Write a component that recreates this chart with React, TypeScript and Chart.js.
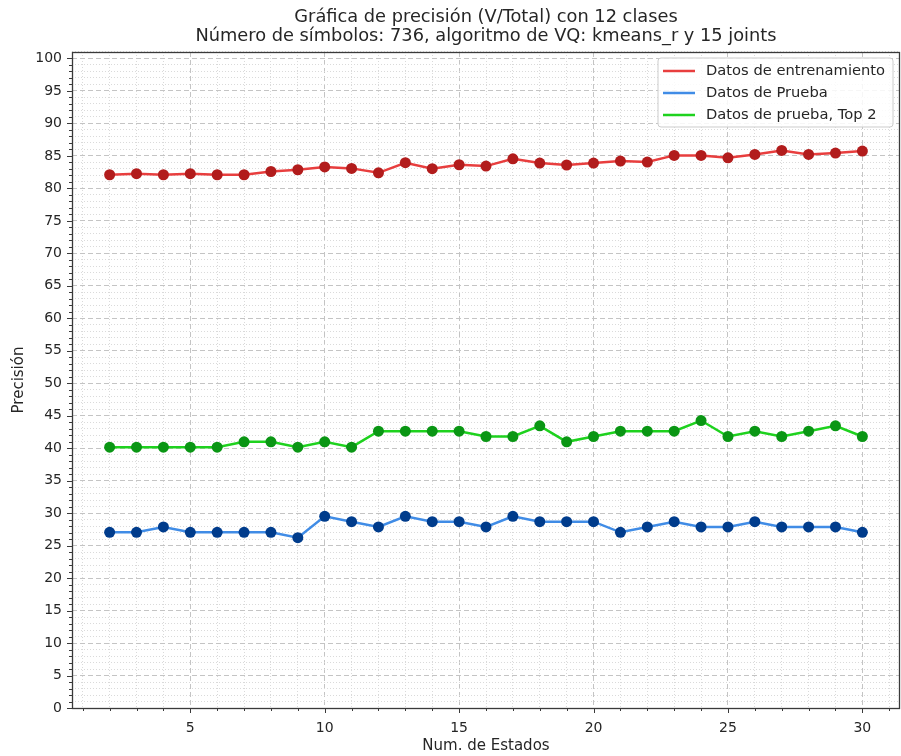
import React, { useEffect, useRef } from 'react';
import { Chart, registerables } from 'chart.js';

Chart.register(...registerables);

const estados = [2, 3, 4, 5, 6, 7, 8, 9, 10, 11, 12, 13, 14, 15, 16, 17, 18, 19, 20, 21, 22, 23, 24, 25, 26, 27, 28, 29, 30];
const entrenamiento = [82.1, 82.26, 82.1, 82.26, 82.1, 82.1, 82.6, 82.87, 83.3, 83.08, 82.4, 83.95, 83.03, 83.64, 83.43, 84.56, 83.9, 83.6, 83.9, 84.2, 84.05, 85.08, 85.08, 84.7, 85.23, 85.85, 85.23, 85.44, 85.74];
const prueba = [27.05, 27.05, 27.87, 27.05, 27.05, 27.05, 27.05, 26.23, 29.51, 28.69, 27.87, 29.51, 28.69, 28.69, 27.87, 29.51, 28.69, 28.69, 28.69, 27.05, 27.87, 28.69, 27.87, 27.87, 28.69, 27.87, 27.87, 27.87, 27.05];
const pruebaTop2 = [40.16, 40.16, 40.16, 40.16, 40.16, 40.98, 40.98, 40.16, 40.98, 40.16, 42.62, 42.62, 42.62, 42.62, 41.8, 41.8, 43.44, 40.98, 41.8, 42.62, 42.62, 42.62, 44.26, 41.8, 42.62, 41.8, 42.62, 43.44, 41.8];

const seriesLabels = ['Datos de entrenamiento', 'Datos de Prueba', 'Datos de prueba, Top 2'];
const lineColors = ['rgb(232, 62, 62)', 'rgb(64, 140, 230)', 'rgb(30, 210, 30)'];
const pointColors = ['rgb(178, 28, 28)', 'rgb(0, 60, 140)', 'rgb(10, 150, 20)'];
const titleLines = ['Gráfica de precisión (V/Total) con 12 clases', 'Número de símbolos: 736, algoritmo de VQ: kmeans_r y 15 joints'];
const xTitle = 'Num. de Estados';
const yTitle = 'Precisión';

const FONT = "'DejaVu Sans', sans-serif";
const TEXT = '#262626';
const AXIS = '#3a3a3a';

const decorPlugin = {
  id: 'decor',
  afterDraw(chart: any) {
    const { ctx, chartArea, scales } = chart;
    const { left, right, top, bottom } = chartArea;
    const xs = scales.x;
    const ys = scales.y;
    ctx.save();
    ctx.strokeStyle = AXIS;
    ctx.lineWidth = 1;
    xs.ticks.forEach((t: any) => {
      const px = Math.round(xs.getPixelForValue(t.value)) + 0.5;
      const len = t.value % 5 === 0 ? 5 : 3;
      ctx.beginPath();
      ctx.moveTo(px, bottom);
      ctx.lineTo(px, bottom + len);
      ctx.stroke();
    });
    ys.ticks.forEach((t: any) => {
      if (t.value > 100) return;
      const py = Math.round(ys.getPixelForValue(t.value)) + 0.5;
      const len = t.value % 5 === 0 ? 5 : 3;
      ctx.beginPath();
      ctx.moveTo(left, py);
      ctx.lineTo(left - len, py);
      ctx.stroke();
    });
    ctx.lineWidth = 1.3;
    ctx.strokeRect(Math.round(left) + 0.5, Math.round(top) + 0.5, Math.round(right - left) - 1, Math.round(bottom - top));

    // legend
    const bw = 235;
    const bh = 69;
    const bx = right - bw - 7;
    const by = top + 6;
    ctx.beginPath();
    const r = 3;
    ctx.moveTo(bx + r, by);
    ctx.lineTo(bx + bw - r, by);
    ctx.arcTo(bx + bw, by, bx + bw, by + r, r);
    ctx.lineTo(bx + bw, by + bh - r);
    ctx.arcTo(bx + bw, by + bh, bx + bw - r, by + bh, r);
    ctx.lineTo(bx + r, by + bh);
    ctx.arcTo(bx, by + bh, bx, by + bh - r, r);
    ctx.lineTo(bx, by + r);
    ctx.arcTo(bx, by, bx + r, by, r);
    ctx.closePath();
    ctx.fillStyle = 'rgba(255,255,255,0.85)';
    ctx.fill();
    ctx.strokeStyle = '#cccccc';
    ctx.lineWidth = 1;
    ctx.stroke();
    ctx.font = `14.7px ${FONT}`;
    ctx.textBaseline = 'middle';
    ctx.textAlign = 'left';
    seriesLabels.forEach((lab, i) => {
      const yy = by + 13 + i * 22;
      ctx.strokeStyle = lineColors[i];
      ctx.lineWidth = 2.5;
      ctx.beginPath();
      ctx.moveTo(bx + 5, yy);
      ctx.lineTo(bx + 37, yy);
      ctx.stroke();
      ctx.fillStyle = TEXT;
      ctx.fillText(lab, bx + 48, yy);
    });
    ctx.restore();
  },
};

export default function App() {
  const ref = useRef<HTMLCanvasElement | null>(null);
  useEffect(() => {
    if (!ref.current) return;
    const series = [entrenamiento, prueba, pruebaTop2];
    const gridColor = (c: any) => (c.tick && c.tick.value % 5 === 0 ? '#c4c4c4' : '#dadada');
    const gridDash = (c: any) => (c.tick && c.tick.value % 5 === 0 ? [5, 3] : [1, 2]);
    const chart = new Chart(ref.current, {
      type: 'line',
      data: {
        datasets: series.map((vals, i) => ({
          label: seriesLabels[i],
          data: estados.map((e, j) => ({ x: e, y: vals[j] })),
          borderColor: lineColors[i],
          backgroundColor: pointColors[i],
          borderWidth: 2.5,
          pointRadius: 5.5,
          pointHoverRadius: 5.5,
          pointBackgroundColor: pointColors[i],
          pointBorderColor: pointColors[i],
          pointBorderWidth: 0,
          tension: 0,
          fill: false,
        })),
      },
      options: {
        animation: false,
        responsive: false,
        devicePixelRatio: 1,
        layout: { autoPadding: false, padding: { left: 0, right: 1, top: 0, bottom: 0 } },
        plugins: {
          legend: { display: false },
          tooltip: { enabled: false },
          title: {
            display: true,
            fullSize: false,
            text: titleLines,
            color: TEXT,
            font: { family: FONT, size: 17.8, weight: 'normal', lineHeight: 1.07 },
            padding: { top: 8, bottom: 5.9 },
          },
        },
        scales: {
          x: {
            type: 'linear',
            min: 0.6,
            max: 31.4,
            afterFit: (s: any) => { s.height = 48; s.paddingLeft = 0; s.paddingRight = 0; },
            ticks: {
              stepSize: 1,
              includeBounds: false,
              autoSkip: false,
              maxRotation: 0,
              padding: 0,
              color: TEXT,
              font: { family: FONT, size: 14 },
              callback: (v: any) => (Number(v) % 5 === 0 ? String(v) : ''),
            },
            grid: { color: gridColor, lineWidth: 1, drawTicks: true, tickLength: 12, tickColor: 'rgba(0,0,0,0)' },
            border: { display: false, dash: gridDash },
            title: { display: true, text: xTitle, color: TEXT, font: { family: FONT, size: 15, lineHeight: 1.2 }, padding: { top: 0, bottom: 1 } },
          },
          y: {
            type: 'linear',
            min: 0,
            max: 101,
            afterFit: (s: any) => { s.width = 72; s.paddingTop = 0; s.paddingBottom = 0; },
            ticks: {
              stepSize: 1,
              includeBounds: false,
              autoSkip: false,
              padding: 0,
              color: TEXT,
              font: { family: FONT, size: 14 },
              callback: (v: any) => (Number(v) % 5 === 0 && Number(v) <= 100 ? String(v) : ''),
            },
            grid: { color: gridColor, lineWidth: 1, drawTicks: true, tickLength: 10, tickColor: 'rgba(0,0,0,0)' },
            border: { display: false, dash: gridDash },
            title: { display: true, text: yTitle, color: TEXT, font: { family: FONT, size: 15, lineHeight: 1.2 }, padding: { top: 10, bottom: 0 } },
          },
        },
      },
      plugins: [decorPlugin],
    });
    return () => chart.destroy();
  }, []);
  return (
    <div style={{ position: 'absolute', left: 0, top: 0, width: 901, height: 756, background: '#fff' }}>
      <canvas ref={ref} width={901} height={756} style={{ display: 'block', width: 901, height: 756 }} />
    </div>
  );
}
